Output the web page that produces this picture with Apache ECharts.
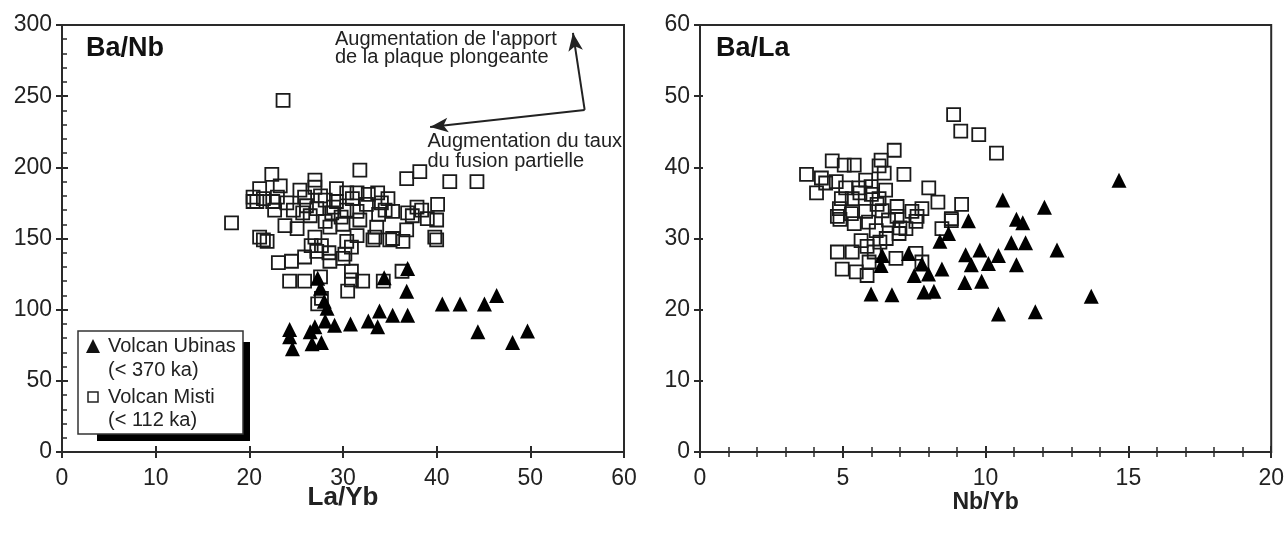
<!DOCTYPE html>
<html><head><meta charset="utf-8">
<script src="https://cdn.jsdelivr.net/npm/echarts@6/dist/echarts.min.js"></script>
<style>html,body{margin:0;padding:0;background:#fff}#c{width:1287px;height:539px}</style>
</head><body><div id="c"></div>
<script>
// ---- Data (left panel: La/Yb vs Ba/Nb) ----
const ubinasLaYb_BaNb = [
  [27.3,122],[34.4,122.5],[36.9,129],[27.6,115],[36.8,113],[28.3,101],[28.0,106],
  [33.9,99],[35.3,96],[36.9,96],[40.6,104],[42.5,104],[45.1,104],[46.4,110],
  [44.4,84.5],[48.1,77],[49.7,85],[29.1,89],[30.8,90],[32.7,92],[33.7,88],[28.1,92],
  [24.3,81],[24.6,72.5],[26.5,84.5],[26.7,76],[27.7,77],[27.0,88],[24.3,86]
];
const mistiLaYb_BaNb = [
  [23.6,247],[31.8,198],[36.8,192],[38.2,197],[41.4,190],[44.3,190],[22.4,195],[21.1,185],
  [23.3,187],[27.0,191],[27.0,186],[25.4,184],[20.4,179],[29.3,185],[30.4,182],[31.5,182],
  [33.7,182],[32.7,181],[40.1,174],[18.1,161],[20.4,176],[40.0,163],[39.8,151],[39.0,164],
  [37.9,172],[36.9,168],[35.3,169],[34.5,170],[36.8,156],[35.3,150],[33.6,158],[33.4,151],
  [31.8,163],[31.5,169],[30.4,170],[29.3,176],[28.1,177],[27.2,171],[26.1,173],[25.7,168],
  [24.7,170],[23.8,159],[25.1,157],[22.5,176],[22.7,170],[20.8,176],[21.1,151],[21.9,148],
  [27.0,151],[27.7,145],[30.4,148],[28.1,162],[23.1,133],[24.5,134],[25.9,137],[27.2,141],
  [28.6,134],[30.0,136],[30.2,139],[30.9,144],[24.3,120],[25.9,120],[30.9,127],[30.9,121],
  [32.1,120],[30.5,113],[34.3,120],[36.3,127],[27.3,104],[33.2,149],[35.0,149],[36.4,148],
  [40.0,149],[21.5,149],[26.5,166],[28.8,168],[29.8,165],[31.0,178],[32.5,174],[34.1,175],
  [21.5,178],[23.0,179],[24.0,175],[25.9,179],[27.6,180],[29.0,172],[30.0,160],[28.6,158],
  [26.6,145],[27.6,123],[28.5,140],[31.5,152],[33.8,167],[38.4,170],[37.4,166],[34.8,178],
  [27.7,108]
];
// ---- Data (right panel: Nb/Yb vs Ba/La) ----
const ubinasNbYb_BaLa = [
  [14.67,38.2],[10.6,35.4],[12.06,34.4],[9.4,32.5],[11.08,32.7],[11.3,32.2],[10.9,29.4],
  [11.4,29.4],[12.5,28.4],[9.8,28.4],[10.45,27.6],[9.3,27.7],[9.5,26.3],[11.08,26.3],
  [10.1,26.5],[9.27,23.8],[9.86,24.0],[13.7,21.9],[10.45,19.4],[11.74,19.7],[8.4,29.6],
  [8.7,30.7],[7.3,27.9],[7.77,26.4],[8.47,25.7],[7.5,24.8],[7.84,22.5],[8.19,22.6],
  [5.99,22.2],[6.72,22.1],[6.34,26.2],[6.38,27.6],[8.0,25.0]
];
const mistiNbYb_BaLa = [
  [8.88,47.4],[9.13,45.1],[9.76,44.6],[10.38,42.0],[6.8,42.4],[6.34,41.0],[4.63,40.9],
  [5.05,40.3],[5.4,40.3],[3.73,39.0],[7.14,39.0],[6.27,40.2],[6.45,39.2],[8.01,37.1],
  [8.33,35.1],[9.16,34.8],[8.8,32.8],[4.25,38.5],[4.4,37.8],[4.08,36.4],[4.77,38.0],
  [5.1,37.1],[5.57,37.1],[4.95,35.6],[5.33,35.6],[5.8,38.2],[5.99,37.3],[6.27,35.6],
  [4.88,34.2],[4.81,33.1],[5.3,33.5],[5.8,33.8],[6.38,33.9],[6.9,34.5],[7.42,33.8],
  [7.77,34.2],[7.6,33.1],[6.9,33.1],[4.81,28.1],[5.33,28.1],[4.98,25.7],[5.47,25.3],
  [5.85,24.8],[5.92,26.7],[5.64,29.7],[6.17,31.1],[6.52,30.0],[6.86,27.2],[7.77,26.7],
  [7.56,27.9],[8.47,31.4],[8.8,32.5],[5.4,32.1],[4.9,32.7],[7.56,32.4],[7.21,31.4],
  [6.97,30.7],[6.1,28.1],[5.85,28.9],[6.0,36.2],[6.2,34.8],[5.6,36.4],[6.6,32.6],
  [5.9,32.3],[6.5,36.8],[7.0,31.5],[6.3,29.5]
];
// ---- Axis ticks ----
const leftX = {min:0, max:60, interval:10};
const leftY = {min:0, max:300, interval:50};
const rightX = {min:0, max:20, interval:5};
const rightY = {min:0, max:60, interval:10};
// arrow annotation (data coordinates of left panel)
const arrowCorner = [55.8, 240.3], arrowUp = [54.55, 294.4], arrowLeft = [39.3, 228.4];

const FONT = "'Liberation Sans', Arial, sans-serif";
const AX = '#2a2a2a';
function mainAxis(r, opts) {
  return Object.assign({
    type:'value', min:r.min, max:r.max, interval:r.interval,
    axisLine:{show:true, onZero:false, lineStyle:{color:AX, width:2}},
    axisTick:{show:true, inside:false, length:6, lineStyle:{color:AX, width:2}},
    axisLabel:{color:'#222', fontSize:23, fontFamily:FONT},
    splitLine:{show:false}
  }, opts);
}
function overlayAxis(r, opts) {
  return Object.assign({
    type:'value', min:r.min, max:r.max, interval:r.interval,
    axisLine:{show:false, onZero:false},
    axisTick:{show:true, inside:true, length:6, lineStyle:{color:AX, width:2}},
    axisLabel:{show:false}, splitLine:{show:false}
  }, opts);
}
const sq = {symbol:'rect', symbolSize:13, itemStyle:{color:'rgba(0,0,0,0)', borderColor:'#1a1a1a', borderWidth:1.8, opacity:1}};
const tri = {symbol:'triangle', symbolSize:15, itemStyle:{color:'#000', opacity:1}};

const chart = echarts.init(document.getElementById('c'));
chart.setOption({
  animation:false,
  grid:[
    {left:62, right:663, top:25, bottom:87, show:true, borderColor:AX, borderWidth:2, backgroundColor:'transparent'},
    {left:700, right:13, top:25, bottom:87, show:true, borderColor:AX, borderWidth:2, backgroundColor:'transparent'}
  ],
  xAxis:[
    mainAxis(leftX, {gridIndex:0, position:'bottom', name:'La/Yb', nameLocation:'middle', nameGap:33, nameMoveOverlap:false,
      nameTextStyle:{fontSize:26, fontWeight:'bold', fontFamily:FONT, color:'#222', verticalAlign:'top'},
      axisLabel:{color:'#222', fontSize:23, fontFamily:FONT, margin:15}}),
    overlayAxis(leftX, {gridIndex:0, position:'bottom'}),
    mainAxis(rightX, {gridIndex:1, position:'bottom', name:'Nb/Yb', nameLocation:'middle', nameGap:39, nameMoveOverlap:false,
      nameTextStyle:{fontSize:23, fontWeight:'bold', fontFamily:FONT, color:'#222', verticalAlign:'top'},
      axisLabel:{color:'#222', fontSize:23, fontFamily:FONT, margin:15},
      minorTick:{show:true, splitNumber:5, length:5, lineStyle:{color:AX, width:1.5}}}),
    overlayAxis(rightX, {gridIndex:1, position:'bottom', minorTick:{show:true, splitNumber:5, length:5, lineStyle:{color:AX, width:1.5}}})
  ],
  yAxis:[
    mainAxis(leftY, {gridIndex:0, position:'left', axisLabel:{color:'#222', fontSize:23, fontFamily:FONT, margin:10}}),
    overlayAxis(leftY, {gridIndex:0, position:'left', minorTick:{show:true, splitNumber:5, length:5, lineStyle:{color:AX, width:1.5}}}),
    mainAxis(rightY, {gridIndex:1, position:'left', axisLabel:{color:'#222', fontSize:23, fontFamily:FONT, margin:10}}),
    overlayAxis(rightY, {gridIndex:1, position:'left', axisTick:{show:true, inside:true, length:3, lineStyle:{color:AX, width:2}}})
  ],
  series:[
    Object.assign({type:'scatter', name:'Volcan Misti', xAxisIndex:0, yAxisIndex:0, data:mistiLaYb_BaNb}, sq),
    Object.assign({type:'scatter', name:'Volcan Ubinas', xAxisIndex:0, yAxisIndex:0, data:ubinasLaYb_BaNb}, tri),
    Object.assign({type:'scatter', name:'Volcan Misti', xAxisIndex:2, yAxisIndex:2, data:mistiNbYb_BaLa}, sq),
    Object.assign({type:'scatter', name:'Volcan Ubinas', xAxisIndex:2, yAxisIndex:2, data:ubinasNbYb_BaLa}, tri),
    {type:'scatter', xAxisIndex:0, yAxisIndex:0, data:[], silent:true,
     markLine:{silent:true, symbol:['none','arrow'], symbolSize:[11,18], label:{show:false},
       lineStyle:{color:'#222', width:2, type:'solid'},
       data:[[{coord:arrowCorner},{coord:arrowUp}],[{coord:arrowCorner},{coord:arrowLeft}]]}}
  ],
  graphic:[
    {type:'text', left:86, top:35, style:{text:'Ba/Nb', font:'bold 27px '+FONT, fill:'#111'}},
    {type:'text', left:716, top:35, style:{text:'Ba/La', font:'bold 27px '+FONT, fill:'#111'}},
    {type:'text', left:335, top:29, style:{text:"Augmentation de l'apport\nde la plaque plongeante", font:'20px '+FONT, fill:'#222', lineHeight:18}},
    {type:'text', right:1287-622, top:131, style:{text:'Augmentation du taux\ndu fusion partielle', font:'20px '+FONT, fill:'#222', lineHeight:20, align:'right'}},
    {type:'rect', shape:{x:97, y:342, width:153, height:99}, style:{fill:'#000'}},
    {type:'rect', shape:{x:78, y:331, width:165, height:103}, style:{fill:'#fff', stroke:'#333', lineWidth:1.5}},
    {type:'polygon', shape:{points:[[93,339],[86,353],[100,353]]}, style:{fill:'#111'}},
    {type:'rect', shape:{x:88, y:392, width:10, height:10}, style:{fill:'#fff', stroke:'#222', lineWidth:1.5}},
    {type:'text', left:108, top:336, style:{text:'Volcan Ubinas', font:'20px '+FONT, fill:'#222'}},
    {type:'text', left:108, top:360, style:{text:'(< 370 ka)', font:'20px '+FONT, fill:'#222'}},
    {type:'text', left:108, top:387, style:{text:'Volcan Misti', font:'20px '+FONT, fill:'#222'}},
    {type:'text', left:108, top:410, style:{text:'(< 112 ka)', font:'20px '+FONT, fill:'#222'}}
  ]
});
</script></body></html>
